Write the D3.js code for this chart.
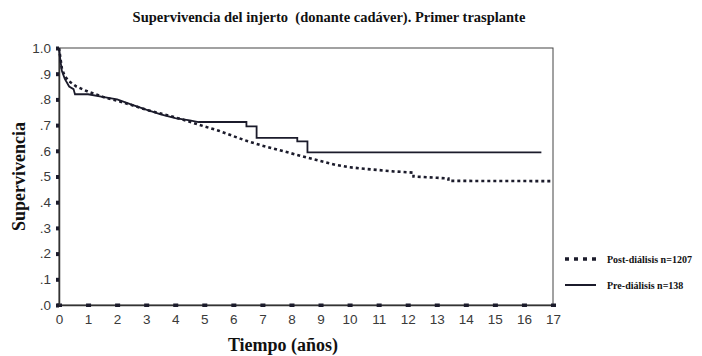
<!DOCTYPE html>
<html>
<head>
<meta charset="utf-8">
<script src="https://cdn.jsdelivr.net/npm/d3@7/dist/d3.min.js"></script>
<style>
  html, body { margin: 0; padding: 0; background: #fff; }
  svg { display: block; }
</style>
</head>
<body>
<svg id="chart" width="702" height="356"></svg>
<script>
// Kaplan-Meier graft survival, cadaveric donor, first transplant
const title = "Supervivencia del injerto  (donante cadáver). Primer trasplante";
const xLabel = "Tiempo (años)";
const yLabel = "Supervivencia";

const xTicks = [0,1,2,3,4,5,6,7,8,9,10,11,12,13,14,15,16,17];
const yTicks = [0,0.1,0.2,0.3,0.4,0.5,0.6,0.7,0.8,0.9,1.0];
const yTickLabels = [".0",".1",".2",".3",".4",".5",".6",".7",".8",".9","1.0"];

const seriesNames = ["Post-diálisis n=1207", "Pre-diálisis n=138"];

// Post-diálisis: years and survival
const postTime = [0, 0.05, 0.1, 0.2, 0.35, 0.6, 1, 1.5, 2, 2.5, 3, 3.5, 4, 4.5, 5, 5.5, 6, 6.5, 7, 7.5, 8, 8.5, 9, 9.5, 10, 10.5, 11, 11.5, 12.2, 12.2, 13, 13.4, 13.4, 17];
const postSurv = [1.0, 0.96, 0.92, 0.89, 0.87, 0.85, 0.83, 0.81, 0.795, 0.778, 0.76, 0.745, 0.73, 0.713, 0.695, 0.678, 0.657, 0.637, 0.62, 0.605, 0.59, 0.575, 0.56, 0.546, 0.536, 0.53, 0.525, 0.52, 0.515, 0.50, 0.495, 0.492, 0.483, 0.482];

// Pre-diálisis: years and survival
const preTime = [0, 0.05, 0.1, 0.2, 0.35, 0.5, 0.55, 1, 1.5, 2, 2.5, 3, 3.5, 4, 4.5, 4.8, 6.45, 6.45, 6.8, 6.8, 8.2, 8.2, 8.55, 8.55, 16.6];
const preSurv = [1.0, 0.95, 0.91, 0.88, 0.85, 0.84, 0.82, 0.82, 0.81, 0.80, 0.78, 0.76, 0.742, 0.727, 0.718, 0.712, 0.712, 0.695, 0.695, 0.65, 0.65, 0.637, 0.637, 0.594, 0.594];

const svg = d3.select("#chart");
const margin = { left: 59, right: 149, top: 48, bottom: 51 };
const W = 702, H = 356;

const x = d3.scaleLinear().domain([0, 17]).range([margin.left, W - margin.right]);
const y = d3.scaleLinear().domain([0, 1]).range([H - margin.bottom, margin.top]);

const ink = "#1b1b2b";
const serif = "'Liberation Serif', 'Times New Roman', serif";
const sans = "'Liberation Sans', Arial, sans-serif";

// title
svg.append("text")
  .attr("x", 329).attr("y", 22)
  .attr("text-anchor", "middle")
  .style("white-space", "pre")
  .attr("font-family", serif).attr("font-weight", "bold").attr("font-size", 14.5)
  .attr("fill", "#111")
  .text(title);

// plot frame
svg.append("rect")
  .attr("x", x(0)).attr("y", y(1))
  .attr("width", x(17) - x(0)).attr("height", y(0) - y(1))
  .attr("fill", "none").attr("stroke", "#444").attr("stroke-width", 1);

// x axis: labels and square tick marks
const xAxis = d3.axisBottom(x).tickValues(xTicks).tickSize(0).tickPadding(9)
  .tickFormat(d3.format("d"));
const gx = svg.append("g").attr("transform", `translate(0,${y(0)})`).call(xAxis);
gx.select(".domain").attr("stroke", "#333").attr("stroke-width", 1.5);
gx.selectAll(".tick text").attr("font-family", sans).attr("font-size", 13.5).attr("fill", "#3a3a3a");
gx.selectAll(".tick").append("rect")
  .attr("x", -2.5).attr("y", -1.5).attr("width", 5).attr("height", 3.5).attr("fill", ink);

// y axis
const yAxis = d3.axisLeft(y).tickValues(yTicks).tickSize(0).tickPadding(8)
  .tickFormat((d, i) => yTickLabels[i]);
const gy = svg.append("g").attr("transform", `translate(${x(0)},0)`).call(yAxis);
gy.select(".domain").attr("stroke", "#333").attr("stroke-width", 1.5);
gy.selectAll(".tick text").attr("font-family", sans).attr("font-size", 13.5).attr("fill", "#3a3a3a");
gy.selectAll(".tick").append("rect")
  .attr("x", -3).attr("y", -2).attr("width", 3).attr("height", 4).attr("fill", ink);

// axis titles
svg.append("text")
  .attr("transform", `translate(25,${(y(0) + y(1)) / 2}) rotate(-90)`)
  .attr("text-anchor", "middle")
  .attr("font-family", serif).attr("font-weight", "bold").attr("font-size", 18)
  .attr("fill", "#111")
  .text(yLabel);

svg.append("text")
  .attr("x", 283).attr("y", 351)
  .attr("text-anchor", "middle")
  .attr("font-family", serif).attr("font-weight", "bold").attr("font-size", 18)
  .attr("fill", "#111")
  .text(xLabel);

// survival curves
const line = d3.line().x(d => x(d[0])).y(d => y(d[1]));
const postData = postTime.map((t, i) => [t, postSurv[i]]);
const preData = preTime.map((t, i) => [t, preSurv[i]]);

svg.append("path")
  .datum(preData)
  .attr("d", line)
  .attr("fill", "none").attr("stroke", ink).attr("stroke-width", 1.8);

svg.append("path")
  .datum(postData)
  .attr("d", line)
  .attr("fill", "none").attr("stroke", ink).attr("stroke-width", 2.6)
  .attr("stroke-dasharray", "3,3");

// legend
const legend = svg.append("g");
const legendRows = [
  { name: seriesNames[0], dash: "4,5", width: 3.5, y: 259 },
  { name: seriesNames[1], dash: null, width: 2, y: 285 }
];
legendRows.forEach(r => {
  legend.append("line")
    .attr("x1", 565).attr("x2", 596).attr("y1", r.y).attr("y2", r.y)
    .attr("stroke", ink).attr("stroke-width", r.width)
    .attr("stroke-dasharray", r.dash);
  legend.append("text")
    .attr("x", 607).attr("y", r.y + 3.5)
    .attr("font-family", serif).attr("font-weight", "bold").attr("font-size", 10)
    .attr("fill", "#111")
    .text(r.name);
});
</script>
</body>
</html>
